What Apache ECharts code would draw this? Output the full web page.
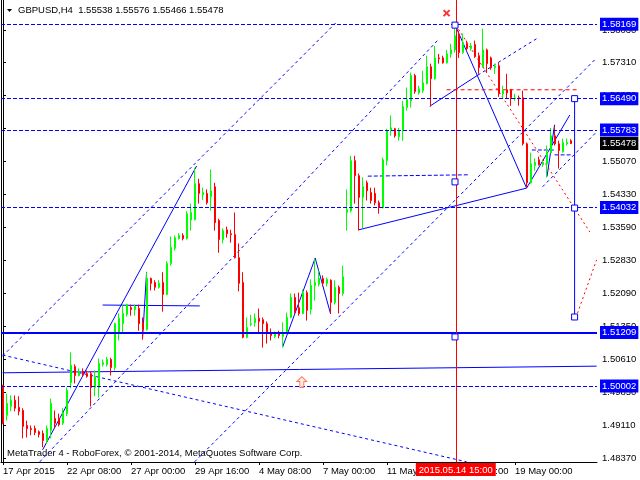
<!DOCTYPE html>
<html><head><meta charset="utf-8">
<script src="https://cdn.jsdelivr.net/npm/echarts@6/dist/echarts.min.js"></script>
<style>html,body{margin:0;padding:0;background:#fff}#c{width:640px;height:480px}</style>
</head><body><div id="c"></div>
<script>
// ---- candle values (H4 bars) ----
const opens = [1.5001,1.4934,1.4954,1.4968,1.4952,1.4945,1.4911,1.4904,1.4904,1.4897,
1.4893,1.4877,1.4900,1.4927,1.4927,1.4916,1.4938,1.5008,1.5044,1.5024,
1.5033,1.5028,1.5028,1.4997,1.4997,1.5049,1.5049,1.5060,1.5042,1.5118,
1.5141,1.5162,1.5177,1.5173,1.5175,1.5143,1.5128,1.5243,1.5234,1.5223,
1.5234,1.5207,1.5277,1.5311,1.5333,1.5340,1.5333,1.5375,1.5376,1.5457,
1.5432,1.5435,1.5428,1.5450,1.5374,1.5331,1.5353,1.5344,1.5342,1.5290,
1.5234,1.5110,1.5139,1.5143,1.5153,1.5150,1.5141,1.5119,1.5112,1.5119,
1.5112,1.5121,1.5155,1.5200,1.5177,1.5164,1.5211,1.5173,1.5227,1.5230,
1.5243,1.5232,1.5239,1.5189,1.5223,1.5209,1.5392,1.5396,1.5509,1.5475,
1.5426,1.5459,1.5437,1.5435,1.5414,1.5403,1.5509,1.5577,1.5581,1.5563,
1.5577,1.5629,1.5644,1.5701,1.5662,1.5667,1.5683,1.5721,1.5694,1.5741,
1.5741,1.5730,1.5750,1.5759,1.5791,1.5753,1.5773,1.5762,1.5771,1.5746,
1.5721,1.5759,1.5741,1.5719,1.5723,1.5660,1.5669,1.5669,1.5649,1.5651,
1.5651,1.5547,1.5459,1.5498,1.5511,1.5500,1.5502,1.5527,1.5565,1.5547,
1.5529,1.5547,1.55538];
const highs = [1.5003,1.4983,1.4979,1.4979,1.4977,1.4950,1.4922,1.4911,1.4911,1.4900,
1.4900,1.4911,1.4972,1.4945,1.4938,1.4950,1.4997,1.5076,1.5049,1.5040,
1.5040,1.5035,1.5033,1.5035,1.5062,1.5060,1.5066,1.5064,1.5143,1.5164,
1.5184,1.5186,1.5184,1.5184,1.5184,1.5155,1.5257,1.5245,1.5239,1.5239,
1.5257,1.5282,1.5338,1.5340,1.5345,1.5345,1.5395,1.5412,1.5493,1.5468,
1.5448,1.5444,1.5489,1.5459,1.5378,1.5356,1.5360,1.5353,1.5392,1.5322,
1.5257,1.5155,1.5161,1.5164,1.5175,1.5155,1.5146,1.5130,1.5123,1.5125,
1.5144,1.5166,1.5209,1.5209,1.5211,1.5218,1.5216,1.5241,1.5288,1.5261,
1.5250,1.5245,1.5241,1.5239,1.5227,1.5272,1.5444,1.5520,1.5520,1.5480,
1.5471,1.5464,1.5448,1.5448,1.5419,1.5516,1.5581,1.5611,1.5583,1.5583,
1.5644,1.5674,1.5708,1.5705,1.5678,1.5712,1.5746,1.5728,1.5768,1.5750,
1.5746,1.5759,1.5773,1.5817,1.5802,1.5796,1.5780,1.5775,1.5780,1.5753,
1.5807,1.5762,1.5744,1.5728,1.5730,1.5678,1.5705,1.5671,1.5660,1.5656,
1.5667,1.5550,1.5527,1.5514,1.5518,1.5509,1.5543,1.5583,1.5586,1.5554,
1.5559,1.5559,1.55576];
const lows = [1.4914,1.4922,1.4943,1.4943,1.4934,1.4882,1.4884,1.4889,1.4889,1.4884,
1.4862,1.4870,1.4882,1.4904,1.4909,1.4912,1.4932,1.4995,1.5006,1.5022,
1.5022,1.5019,1.4954,1.4977,1.4974,1.5044,1.5044,1.5024,1.5035,1.5103,
1.5121,1.5157,1.5159,1.5159,1.5125,1.5105,1.5125,1.5216,1.5216,1.5220,
1.5168,1.5205,1.5272,1.5306,1.5331,1.5329,1.5331,1.5351,1.5374,1.5412,
1.5420,1.5410,1.5396,1.5351,1.5301,1.5322,1.5335,1.5324,1.5288,1.5214,
1.5108,1.5108,1.5135,1.5134,1.5121,1.5087,1.5096,1.5103,1.5108,1.5108,
1.5087,1.5119,1.5153,1.5164,1.5159,1.5162,1.5148,1.5162,1.5193,1.5225,
1.5225,1.5225,1.5164,1.5184,1.5164,1.5204,1.5351,1.5392,1.5412,1.5351,
1.5356,1.5419,1.5412,1.5408,1.5389,1.5401,1.5498,1.5565,1.5561,1.5554,
1.5554,1.5622,1.5629,1.5660,1.5658,1.5662,1.5681,1.5631,1.5692,1.5728,
1.5728,1.5728,1.5741,1.5753,1.5741,1.5750,1.5757,1.5757,1.5741,1.5705,
1.5719,1.5708,1.5714,1.5705,1.5653,1.5649,1.5649,1.5633,1.5644,1.5633,
1.5543,1.5448,1.5457,1.5486,1.5498,1.5495,1.5471,1.5525,1.5543,1.5491,
1.5527,1.5543,1.55466];
const closes = [1.4916,1.4961,1.4968,1.4950,1.4943,1.4909,1.4904,1.4902,1.4895,1.4891,
1.4877,1.4904,1.4961,1.4916,1.4913,1.4941,1.4990,1.5047,1.5024,1.5033,
1.5026,1.5022,1.4997,1.5022,1.5051,1.5053,1.5060,1.5042,1.5141,1.5153,
1.5164,1.5184,1.5173,1.5180,1.5141,1.5128,1.5243,1.5232,1.5223,1.5232,
1.5207,1.5277,1.5313,1.5335,1.5340,1.5333,1.5389,1.5392,1.5457,1.5435,
1.5437,1.5414,1.5441,1.5369,1.5331,1.5351,1.5344,1.5342,1.5290,1.5232,
1.5110,1.5132,1.5141,1.5153,1.5146,1.5141,1.5119,1.5114,1.5119,1.5114,
1.5121,1.5155,1.5200,1.5166,1.5164,1.5211,1.5171,1.5227,1.5234,1.5243,
1.5232,1.5241,1.5189,1.5223,1.5209,1.5247,1.5398,1.5509,1.5475,1.5426,
1.5450,1.5441,1.5419,1.5414,1.5403,1.5511,1.5577,1.5583,1.5565,1.5577,
1.5631,1.5647,1.5701,1.5665,1.5671,1.5685,1.5721,1.5694,1.5741,1.5739,
1.5730,1.5750,1.5759,1.5791,1.5753,1.5775,1.5762,1.5768,1.5744,1.5719,
1.5759,1.5728,1.5719,1.5723,1.5660,1.5667,1.5662,1.5651,1.5651,1.5649,
1.5547,1.5459,1.5502,1.5505,1.5500,1.5505,1.5527,1.5565,1.5547,1.5532,
1.5550,1.5550,1.55478];

// ---- axis texts ----
const tickLabels = ['17 Apr 2015','22 Apr 08:00','27 Apr 00:00','29 Apr 16:00','4 May 08:00','7 May 00:00','11 May 16:00','14 May 08:00','19 May 00:00'];
const tickStep = 16;
const yTicks = [1.58030,1.57310,1.56570,1.55830,1.55070,1.54330,1.53590,1.52830,1.52090,1.51350,1.50610,1.49850,1.49110,1.48370];
const slotCount = 149;
const yMin = 1.48286, yMax = 1.58717;

// ---- levels and annotations (bar index, price) ----
const levels = [1.58169,1.56490,1.55783,1.54032,1.51209,1.50002];
const solidLevel = 1.51209;
const lastPrice = 1.55478;
const titleText = 'GBPUSD,H4  1.55538 1.55576 1.55466 1.55478';
const footerText = 'MetaTrader 4 - RoboForex, \u00a9 2001-2014, MetaQuotes Software Corp.';
const cursorIndex = 113.2, cursorLabel = '2015.05.14 15:00';
const solidLines = [
 [[9.9,1.4856],[48.4,1.5497]],
 [[34.9,1.5109],[35.9,1.5258]],
 [[24.9,1.5183],[49.2,1.5181]],
 [[-0.1,1.5030],[148.4,1.5045]],
 [[69.9,1.5088],[78.05,1.5289],[81.9,1.5163]],
 [[89.0,1.5353],[130.9,1.5447]],
 [[113.05,1.5815],[130.9,1.5447],[141.7,1.5612]],
 [[136.0,1.5473],[137.9,1.5590]],
 [[106.7,1.5632],[118.7,1.5702]],
 [[142.9,1.5649],[142.9,1.5156]]
];
const dashedDiagonals = [
 [[-0.1,1.5068],[83.4,1.5822]],
 [[9.2,1.4829],[108.7,1.5781]],
 [[47.9,1.4829],[148.4,1.5741]],
 [[-0.1,1.5070],[115.9,1.4829]],
 [[134.9,1.5450],[148.4,1.5574]],
 [[118.7,1.5702],[133.7,1.5786]]
];
const dashedShort = [
 [[91.2,1.5474],[116.2,1.5477]],
 [[132.2,1.5533],[137.9,1.5533]],
 [[137.9,1.5522],[142.2,1.5522]]
];
const redDotted = [
 [[113.2,1.5815],[146.7,1.5348]],
 [[143.2,1.5154],[148.4,1.5285]]
];
const redDashed = [[[110.9,1.5669],[143.4,1.5669]]];
const anchorBoxes = [[113,1.5815],[113,1.5461],[113,1.5111],[142.9,1.5649],[142.9,1.5402],[142.9,1.5156]];
const crossMark = [[110.9,1.5842]];
const arrowMark = [[74.7,1.5009]];

// ---- build ----
const MON = ['Jan','Feb','Mar','Apr','May','Jun','Jul','Aug','Sep','Oct','Nov','Dec'];
function buildCategories(n){
  const out=[]; let t=Date.UTC(2015,3,17,16);
  while(out.length<n){ const d=new Date(t); const w=d.getUTCDay();
    if(w!==0&&w!==6){ out.push(d.getUTCDate()+' '+MON[d.getUTCMonth()]+' '+String(d.getUTCHours()).padStart(2,'0')+':00'); }
    t+=4*3600e3; }
  return out;
}
const categories = buildCategories(slotCount);
const candleData = categories.map((c,i)=> i<opens.length ? [opens[i],closes[i],lows[i],highs[i]] : '-');
const FONT = 'Liberation Sans';
const FS = 9.5;
const BLUE = '#0000ff';
const showTick = (i)=> i%tickStep===0 && i/tickStep < tickLabels.length;

function lineSeries(segs, style, extra){
  return segs.map((s,k)=>Object.assign({
    type:'line', xAxisIndex:1, yAxisIndex:0, data:s, symbol:'none', showSymbol:false,
    silent:true, animation:false, lineStyle:style, z:3
  }, k===0 && extra ? extra : {}));
}
function boxLabel(text,bg){
  return {show:true, position:'end', distance:3, formatter:text, color:'#fff', backgroundColor:bg,
    padding:[2,2,1,2], fontSize:FS, fontFamily:FONT};
}
const levelLines = levels.map(v=>({
  yAxis:v,
  lineStyle:{color:BLUE, width: v===solidLevel?2:1, type: v===solidLevel?'solid':[4,2]},
  label:boxLabel(v.toFixed(5),BLUE)
}));

const series = [
  {type:'candlestick', xAxisIndex:0, yAxisIndex:0, data:candleData, barWidth:2, animation:false, silent:true, z:4,
   itemStyle:{color:'#00ff00', color0:'#ff0000', borderColor:'#00ff00', borderColor0:'#ff0000', borderColorDoji:'#00ff00', borderWidth:1}}
];
// horizontal price levels with right-side price boxes
series.push({type:'line', xAxisIndex:1, yAxisIndex:0, data:[], symbol:'none', silent:true, animation:false, z:5,
  markLine:{symbol:['none','none'], silent:true, animation:false, precision:5, data:levelLines}});
// current price box (no visible line)
series.push({type:'line', xAxisIndex:1, yAxisIndex:0, data:[], symbol:'none', silent:true, animation:false, z:5,
  markLine:{symbol:['none','none'], silent:true, animation:false, precision:5,
    data:[{yAxis:lastPrice, lineStyle:{color:'rgba(0,0,0,0)', width:1}, label:boxLabel(lastPrice.toFixed(5),'#000')}]}});
series.push(...lineSeries(solidLines,{color:BLUE,width:1,type:'solid'}));
series.push(...lineSeries(dashedDiagonals,{color:BLUE,width:1,type:[3,3]}));
series.push(...lineSeries(dashedShort,{color:BLUE,width:1,type:[4,2]}));
series.push(...lineSeries(redDashed,{color:'#ff0000',width:1,type:[4,3]}));
series.push(...lineSeries(redDotted,{color:'#ff0000',width:1,type:[2,3]},{
  markLine:{symbol:['none','none'], silent:true, animation:false,
    data:[{xAxis:cursorIndex, lineStyle:{color:'#ff0000',width:1,type:'solid'},
      label:{show:true, position:'start', distance:1, formatter:cursorLabel, color:'#fff', backgroundColor:'#ff0000',
        padding:[2,3,1,3], fontSize:FS, fontFamily:FONT}}]}
}));
series.push({type:'scatter', xAxisIndex:1, yAxisIndex:0, data:anchorBoxes, symbol:'rect', symbolSize:6, silent:true, animation:false, z:6,
  itemStyle:{color:'#ffffff', opacity:1, borderColor:BLUE, borderWidth:1}});
series.push({type:'scatter', xAxisIndex:1, yAxisIndex:0, data:crossMark, symbol:'path://M0,0L10,10M10,0L0,10', symbolSize:6, silent:true, animation:false, z:6,
  itemStyle:{color:'none', borderColor:'#ff0000', borderWidth:2}});
series.push({type:'scatter', xAxisIndex:1, yAxisIndex:0, data:arrowMark, symbol:'path://M5,0L10,5L7,5L7,11L3,11L3,5L0,5Z', symbolSize:[10,11], silent:true, animation:false, z:6,
  itemStyle:{color:'#ffe8e0', borderColor:'#ff5a3c', borderWidth:1}});

const chart = echarts.init(document.getElementById('c'), null, {renderer:'canvas'});
chart.setOption({
  animation:false,
  backgroundColor:'#ffffff',
  grid:{left:1, right:43, top:0, bottom:18, containLabel:false, outerBoundsMode:'none'},
  xAxis:[
    {type:'category', data:categories, boundaryGap:true,
     axisLine:{show:true, onZero:false, lineStyle:{color:'#000', width:1}},
     axisTick:{show:true, interval:(i)=>showTick(i), alignWithLabel:true, length:3, lineStyle:{color:'#000'}},
     axisLabel:{show:true, interval:(i)=>showTick(i), formatter:(v,i)=>tickLabels[i/tickStep]||'', align:'left', margin:4,
       color:'#000', fontSize:FS, fontFamily:FONT},
     splitLine:{show:false}},
    {type:'value', min:-0.5, max:slotCount-0.5, show:false, splitLine:{show:false}}
  ],
  yAxis:[
    {type:'value', position:'right', min:yMin, max:yMax, scale:true, splitLine:{show:false},
     axisLine:{show:true, lineStyle:{color:'#000', width:1}},
     axisTick:{show:true, length:3, customValues:yTicks, lineStyle:{color:'#000'}},
     axisLabel:{show:true, customValues:yTicks, formatter:(v)=>v.toFixed(5), margin:5, color:'#000', fontSize:FS, fontFamily:FONT}},
    {type:'value', position:'left', min:yMin, max:yMax, scale:true, splitLine:{show:false},
     axisLine:{show:true, lineStyle:{color:'#000', width:1}}, axisTick:{show:false}, axisLabel:{show:false}}
  ],
  graphic:[
    {type:'polygon', shape:{points:[[7,9],[12,9],[9.5,12]]}, style:{fill:'#000'}},
    {type:'text', left:18, top:5, style:{text:titleText, fill:'#000', font:FS+'px "Liberation Sans"'}},
    {type:'text', left:7, top:448, style:{text:footerText, fill:'#000', font:FS+'px "Liberation Sans"'}}
  ],
  series: series
});
</script></body></html>
